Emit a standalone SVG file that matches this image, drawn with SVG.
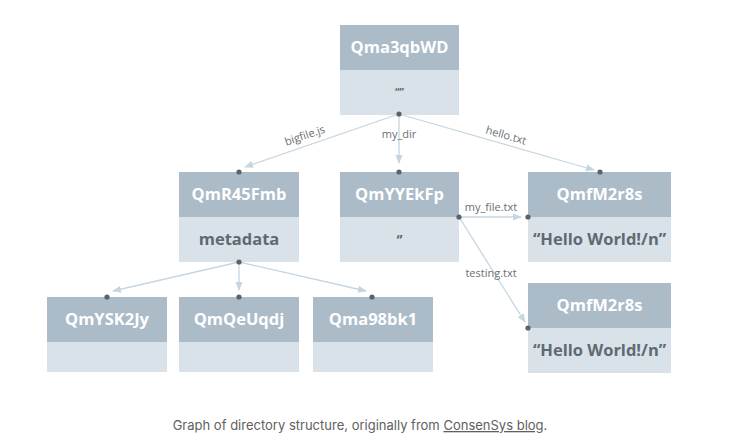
<svg xmlns="http://www.w3.org/2000/svg" width="739" height="448" viewBox="0 0 739 448">
<style>
.hd{fill:#abbbc8}
.bd{fill:#d9e2e9}
.ht{font-family:"Open Sans","Liberation Sans",sans-serif;font-weight:700;font-size:16.5px;fill:#ffffff;text-anchor:middle}
.bt{font-family:"Open Sans","Liberation Sans",sans-serif;font-weight:700;font-size:16.5px;fill:#5e6a72;text-anchor:middle}
.lb{font-family:"Open Sans","Liberation Sans",sans-serif;font-size:11px;fill:#6a6f74;text-anchor:middle}
.ln{stroke:#c6d6e1;stroke-width:1.3;fill:none}
.dt{fill:#5c6268}
.cap{font-family:"Inter","Liberation Sans",sans-serif;font-size:13px;fill:#606060;text-anchor:middle}
</style>
<defs>
<marker id="ar" viewBox="0 0 10 10" refX="9" refY="5" markerWidth="9" markerHeight="9" markerUnits="userSpaceOnUse" orient="auto">
<path d="M0,1 L10,5 L0,9 Z" fill="#c6d6e1"/>
</marker>
</defs>
<rect width="739" height="448" fill="#ffffff"/>
<g id="connectors">
<line class="ln" x1="399" y1="114" x2="245" y2="167" marker-end="url(#ar)"/>
<line class="ln" x1="399" y1="114" x2="399" y2="163" marker-end="url(#ar)"/>
<line class="ln" x1="399" y1="114" x2="594" y2="170" marker-end="url(#ar)"/>
<line class="ln" x1="239" y1="262" x2="113" y2="291" marker-end="url(#ar)"/>
<line class="ln" x1="239" y1="262" x2="239" y2="290" marker-end="url(#ar)"/>
<line class="ln" x1="239" y1="262" x2="366" y2="291" marker-end="url(#ar)"/>
<line class="ln" x1="459" y1="217" x2="521" y2="217" marker-end="url(#ar)"/>
<line class="ln" x1="459" y1="217" x2="525" y2="322" marker-end="url(#ar)"/>
<text class="lb" transform="translate(306,139) rotate(-18.5)">bigfile.js</text>
<text class="lb" x="399" y="138">my_dir</text>
<text class="lb" transform="translate(505,139) rotate(16)">hello.txt</text>
<text class="lb" x="491" y="211">my_file.txt</text>
<text class="lb" x="491" y="277">testing.txt</text>
</g>
<g id="n-Qma3qbWD">
<rect class="hd" x="340" y="25" width="119" height="45"/>
<rect class="bd" x="340" y="70" width="119" height="45"/>
<text class="ht" x="399.5" y="53">Qma3qbWD</text>
<text class="bt" x="399.5" y="96" style="font-size:10px">“”</text>
<circle class="dt" cx="399" cy="114" r="2.6"/>
</g>
<g id="n-QmR45Fmb">
<rect class="hd" x="179" y="172" width="120" height="45"/>
<rect class="bd" x="179" y="217" width="120" height="45"/>
<text class="ht" x="239" y="200">QmR45Fmb</text>
<text class="bt" x="239" y="245">metadata</text>
<circle class="dt" cx="239" cy="172" r="2.6"/>
<circle class="dt" cx="239" cy="262" r="2.6"/>
</g>
<g id="n-QmYYEkFp">
<rect class="hd" x="340" y="172" width="119" height="45"/>
<rect class="bd" x="340" y="217" width="119" height="45"/>
<text class="ht" x="399.5" y="200">QmYYEkFp</text>
<text class="bt" x="399.5" y="245" style="font-size:14px">‘’</text>
<circle class="dt" cx="399" cy="172" r="2.6"/>
<circle class="dt" cx="459" cy="217" r="2.6"/>
</g>
<g id="n-QmfM2r8s-1">
<rect class="hd" x="528" y="172" width="143" height="45"/>
<rect class="bd" x="528" y="217" width="143" height="45"/>
<text class="ht" x="599.5" y="200">QmfM2r8s</text>
<text class="bt" x="599.5" y="245">“Hello World!/n”</text>
<circle class="dt" cx="600" cy="172" r="2.6"/>
<circle class="dt" cx="528" cy="217" r="2.6"/>
</g>
<g id="n-QmfM2r8s-2">
<rect class="hd" x="528" y="283" width="143" height="45"/>
<rect class="bd" x="528" y="328" width="143" height="45"/>
<text class="ht" x="599.5" y="311">QmfM2r8s</text>
<text class="bt" x="599.5" y="356">“Hello World!/n”</text>
<circle class="dt" cx="528" cy="328" r="2.6"/>
</g>
<g id="n-QmYSK2Jy">
<rect class="hd" x="47" y="297" width="120" height="45"/>
<rect class="bd" x="47" y="342" width="120" height="30"/>
<text class="ht" x="107" y="325">QmYSK2Jy</text>
<circle class="dt" cx="107" cy="297" r="2.6"/>
</g>
<g id="n-QmQeUqdj">
<rect class="hd" x="179" y="297" width="120" height="45"/>
<rect class="bd" x="179" y="342" width="120" height="30"/>
<text class="ht" x="239" y="325">QmQeUqdj</text>
<circle class="dt" cx="239" cy="297" r="2.6"/>
</g>
<g id="n-Qma98bk1">
<rect class="hd" x="313" y="297" width="120" height="45"/>
<rect class="bd" x="313" y="342" width="120" height="30"/>
<text class="ht" x="373" y="325">Qma98bk1</text>
<circle class="dt" cx="372" cy="297" r="2.6"/>
</g>
<g id="caption">
<text class="cap" x="360" y="430">Graph of directory structure, originally from <tspan text-decoration="underline">ConsenSys blog</tspan>.</text>
</g>
</svg>
